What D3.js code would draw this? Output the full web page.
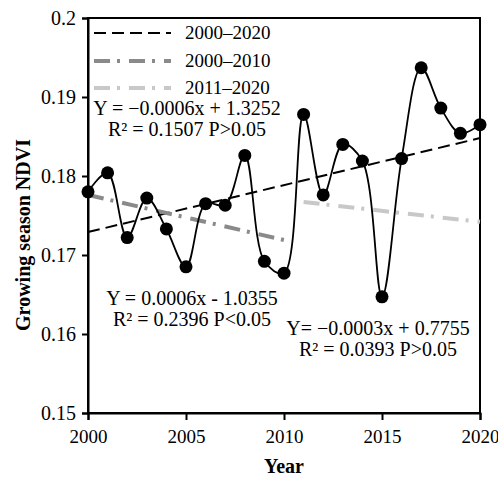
<!DOCTYPE html>
<html>
<head>
<meta charset="utf-8">
<script src="https://cdn.jsdelivr.net/npm/d3@7"></script>
<style>
  body { margin: 0; background: #fff; }
  text { font-family: "Liberation Serif", "Times New Roman", serif; }
</style>
</head>
<body>
<svg id="chart" width="498" height="479"></svg>
<script>
// data
var years = d3.range(2000, 2021)
var ndvi = [0.1780, 0.1804, 0.1722, 0.1772, 0.1733, 0.1685, 0.1765, 0.1763, 0.1826, 0.1692,
            0.1677, 0.1878, 0.1776, 0.1840, 0.1819, 0.1647, 0.1822, 0.1937, 0.1886, 0.1854, 0.1865]

var trendNames = ["2000\u20132020", "2000\u20132010", "2011\u20132020"]
var trendYears = [[2000, 2020], [2000, 2010], [2011, 2020]]
var trendVals = [[0.1729, 0.1848], [0.1776, 0.1719], [0.1767, 0.1742]]

var yTicks = [0.15, 0.16, 0.17, 0.18, 0.19, 0.2]
var xTicks = [2000, 2005, 2010, 2015, 2020]

var eqLines = [
  ["Y = \u22120.0006x + 1.3252", "R\u00b2 = 0.1507 P>0.05"],
  ["Y = 0.0006x - 1.0355", "R\u00b2 = 0.2396 P<0.05"],
  ["Y= \u22120.0003x + 0.7755", "R\u00b2 = 0.0393 P>0.05"]
]

var trendStyle = [
  {color: "#000", width: 2, dash: "12,6"},
  {color: "#8a8a8a", width: 4, dash: "16,7,3,9"},
  {color: "#c8c8c8", width: 4, dash: "16,7,3,9"}
]

var pLeft = 88, pRight = 480, pTop = 18, pBottom = 413
var svg = d3.select("#chart")

var x = d3.scaleLinear().domain([2000, 2020]).range([pLeft, pRight])
var y = d3.scaleLinear().domain([0.15, 0.2]).range([pBottom, pTop])

// frame
svg.append("rect")
  .attr("x", pLeft).attr("y", pTop)
  .attr("width", pRight - pLeft).attr("height", pBottom - pTop)
  .attr("fill", "none").attr("stroke", "#000").attr("stroke-width", 2)

var xAxis = svg.append("g")
  .attr("transform", "translate(0," + pBottom + ")")
  .call(d3.axisBottom(x).tickValues(xTicks).tickFormat(d3.format("d")).tickSize(7).tickPadding(10))
xAxis.select(".domain").attr("stroke-width", 2)
xAxis.selectAll(".tick line").attr("stroke-width", 2)
xAxis.selectAll("text").attr("font-size", 19).attr("font-family", "Liberation Serif").attr("fill", "#000")

var yAxis = svg.append("g")
  .attr("transform", "translate(" + pLeft + ",0)")
  .call(d3.axisLeft(y).tickValues(yTicks).tickFormat(function(d){ return String(+d.toFixed(2)) }).tickSize(6).tickPadding(6))
yAxis.select(".domain").attr("stroke-width", 2)
yAxis.selectAll(".tick line").attr("stroke-width", 2)
yAxis.selectAll("text").attr("font-size", 20).attr("font-family", "Liberation Serif").attr("fill", "#000")

// trend lines
trendYears.forEach(function(t, i){
  svg.append("line")
    .attr("x1", x(t[0])).attr("y1", y(trendVals[i][0]))
    .attr("x2", x(t[1])).attr("y2", y(trendVals[i][1]))
    .attr("stroke", trendStyle[i].color)
    .attr("stroke-width", trendStyle[i].width)
    .attr("stroke-dasharray", trendStyle[i].dash)
})

// smoothed ndvi line
var pts = years.map(function(d, i){ return [d, ndvi[i]] })
var line = d3.line()
  .x(function(d){ return x(d[0]) })
  .y(function(d){ return y(d[1]) })
  .curve(d3.curveCatmullRom.alpha(0.5))

svg.append("path")
  .datum(pts)
  .attr("d", line)
  .attr("fill", "none")
  .attr("stroke", "#000")
  .attr("stroke-width", 1.8)

svg.selectAll(".dot")
  .data(pts)
  .enter()
  .append("circle")
  .attr("class", "dot")
  .attr("cx", function(d){ return x(d[0]) })
  .attr("cy", function(d){ return y(d[1]) })
  .attr("r", 6.5)
  .attr("fill", "#000")

// legend
var legY = [33, 61, 88]
trendNames.forEach(function(name, i){
  svg.append("line")
    .attr("x1", 94).attr("x2", 171)
    .attr("y1", legY[i]).attr("y2", legY[i])
    .attr("stroke", trendStyle[i].color)
    .attr("stroke-width", trendStyle[i].width)
    .attr("stroke-dasharray", trendStyle[i].dash)
  svg.append("text")
    .attr("x", 185).attr("y", legY[i] + 6)
    .attr("font-size", 19)
    .text(name)
})

// equations
var eqPos = [[187, 115], [192, 305], [378, 335]]
eqLines.forEach(function(lines, i){
  lines.forEach(function(s, j){
    svg.append("text")
      .attr("x", eqPos[i][0]).attr("y", eqPos[i][1] + j * 21)
      .attr("text-anchor", "middle")
      .attr("font-size", 20)
      .text(s)
  })
})

// axis titles
svg.append("text")
  .attr("x", (pLeft + pRight) / 2).attr("y", 473)
  .attr("text-anchor", "middle")
  .attr("font-size", 20).attr("font-weight", "bold")
  .text("Year")

svg.append("text")
  .attr("transform", "translate(30," + 235 + ") rotate(-90)")
  .attr("text-anchor", "middle")
  .attr("font-size", 20).attr("font-weight", "bold")
  .text("Growing season NDVI")
</script>
</body>
</html>
